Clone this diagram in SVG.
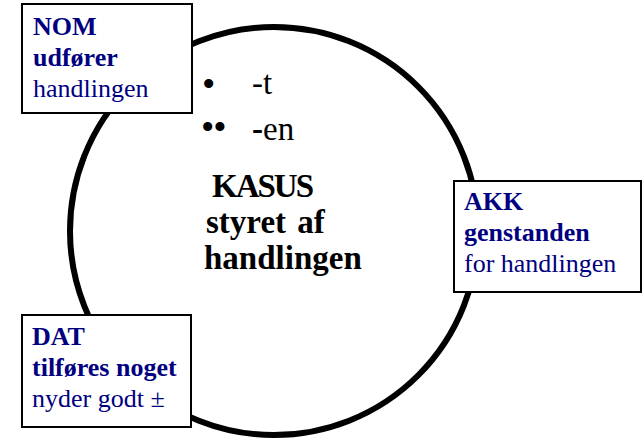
<svg xmlns="http://www.w3.org/2000/svg" width="643" height="441" viewBox="0 0 643 441">
<style>
.box{fill:#fff;stroke:#000;stroke-width:2}
.t{font-family:"Liberation Serif","Times New Roman",serif;fill:#000080;font-size:26px}
.b{font-weight:bold}
.c{font-family:"Liberation Serif","Times New Roman",serif;fill:#000;font-size:33px}
.bul{font-family:"Liberation Serif","Times New Roman",serif;fill:#000;font-size:38px}
</style>
<rect width="643" height="441" fill="#fff"/>
<g id="connectors">
<circle id="circle" cx="274" cy="231" r="204" fill="none" stroke="#000" stroke-width="6"/>
</g>
<g id="center">
<text class="bul" x="202" y="97">•</text>
<text class="c" x="252" y="94">-t</text>
<text class="bul" x="201" y="140" letter-spacing="-1">••</text>
<text class="c" x="252" y="140"><tspan class="b">-</tspan>en</text>
<text class="c b" x="212" y="197" letter-spacing="-2">KASUS</text>
<text class="c b" x="206" y="233" word-spacing="3">styret af</text>
<text class="c b" x="204" y="269">handlingen</text>
</g>
<g id="nom">
<rect class="box" x="22" y="4" width="170" height="109"/>
<text class="t b" x="33" y="35">NOM</text>
<text class="t b" x="33" y="66">udfører</text>
<text class="t" x="33" y="97">handlingen</text>
</g>
<g id="akk">
<rect class="box" x="454" y="181" width="187" height="111"/>
<text class="t b" x="464" y="210">AKK</text>
<text class="t b" x="464" y="241">genstanden</text>
<text class="t" x="464" y="272">for handlingen</text>
</g>
<g id="dat">
<rect class="box" x="22" y="315" width="169" height="112"/>
<text class="t b" x="32" y="345">DAT</text>
<text class="t b" x="32" y="376">tilføres noget</text>
<text class="t" x="32" y="407">nyder godt ±</text>
</g>
</svg>
